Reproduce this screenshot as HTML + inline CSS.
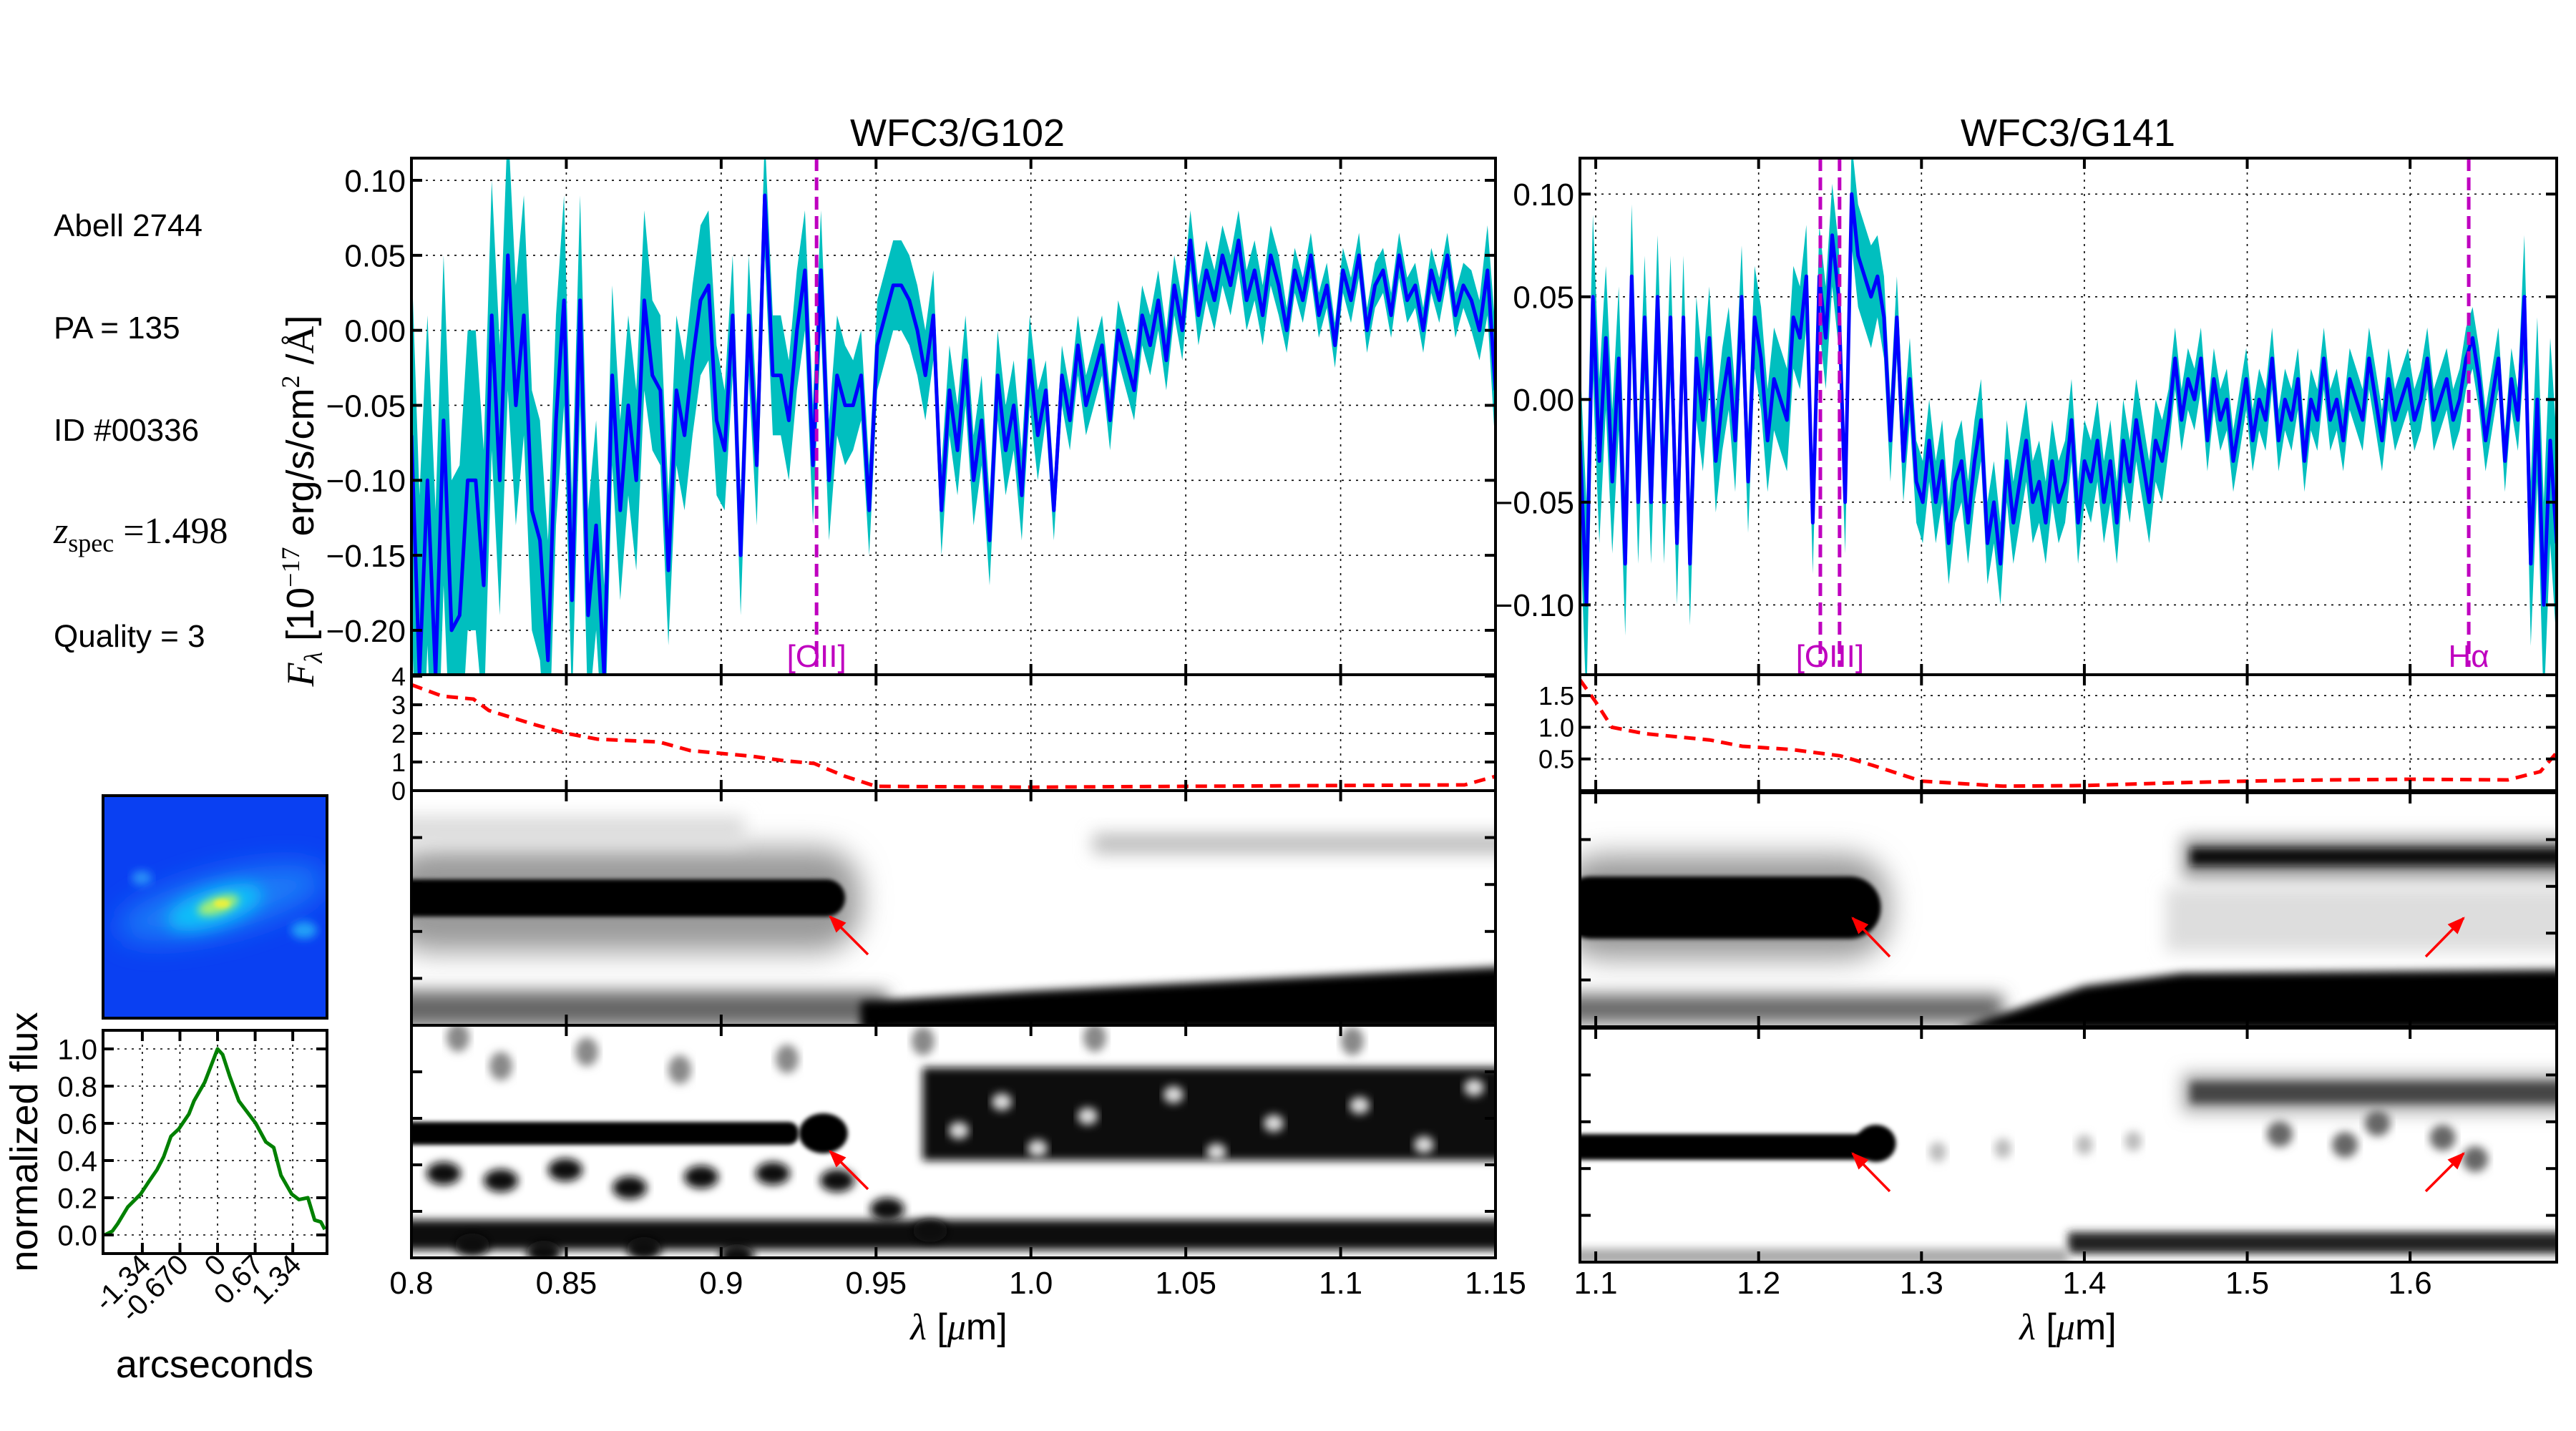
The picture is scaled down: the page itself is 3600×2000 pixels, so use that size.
<!DOCTYPE html>
<html><head><meta charset="utf-8">
<style>
html,body{margin:0;padding:0;background:#fff;}
svg{display:block;font-family:"Liberation Sans",Arial,sans-serif;}
</style></head>
<body>
<svg id="fig" width="3600" height="2000" viewBox="0 0 3600 2000" xmlns="http://www.w3.org/2000/svg">
<defs>
  <filter id="b3" x="-20%" y="-50%" width="140%" height="200%"><feGaussianBlur stdDeviation="3"/></filter>
  <filter id="b6" x="-20%" y="-50%" width="140%" height="200%"><feGaussianBlur stdDeviation="6"/></filter>
  <filter id="b12" x="-20%" y="-80%" width="140%" height="260%"><feGaussianBlur stdDeviation="12"/></filter>
  <filter id="b20" x="-30%" y="-80%" width="160%" height="260%"><feGaussianBlur stdDeviation="20"/></filter>
  <clipPath id="cL1"><rect x="575" y="1105" width="1515" height="328"/></clipPath>
  <clipPath id="cL2"><rect x="575" y="1433" width="1515" height="325"/></clipPath>
  <clipPath id="cR1"><rect x="2208" y="1108" width="1365" height="327"/></clipPath>
  <clipPath id="cR2"><rect x="2208" y="1437" width="1365" height="327"/></clipPath>
  <clipPath id="cTh"><rect x="144" y="1112" width="313" height="311"/></clipPath>
  <clipPath id="cLs"><rect x="575" y="221" width="1515" height="722"/></clipPath>
  <clipPath id="cRs"><rect x="2208" y="221" width="1365" height="722"/></clipPath>
  <marker id="arr" viewBox="0 0 10 10" refX="9" refY="5" markerWidth="7" markerHeight="7" orient="auto-start-reverse"><path d="M0,1 L10,5 L0,9 z" fill="#f00"/></marker>
</defs>

<text x="75" y="330" font-size="44">Abell 2744</text>
<text x="75" y="473" font-size="44">PA = 135</text>
<text x="75" y="616" font-size="44">ID #00336</text>
<text x="75" y="759" font-size="52" font-family="Liberation Serif, serif"><tspan font-style="italic">z</tspan><tspan font-size="36" dy="12">spec</tspan><tspan dy="-12"> =1.498</tspan></text>
<text x="75" y="904" font-size="44">Quality = 3</text>

<text x="1338" y="204" font-size="54" text-anchor="middle">WFC3/G102</text>
<text x="2890" y="204" font-size="54" text-anchor="middle">WFC3/G141</text>

<text transform="translate(438,700) rotate(-90)" font-size="54" text-anchor="middle"><tspan font-family="Liberation Serif, serif" font-style="italic">F</tspan><tspan font-family="Liberation Serif, serif" font-style="italic" font-size="36" dy="12">λ</tspan><tspan dy="-12"> [10</tspan><tspan font-size="36" dy="-20" font-family="Liberation Serif, serif">−17</tspan><tspan dy="20"> erg/s/cm</tspan><tspan font-size="36" dy="-20" font-family="Liberation Serif, serif">2</tspan><tspan dy="20"> /</tspan><tspan font-family="Liberation Serif, serif">Å</tspan><tspan>]</tspan></text>

<text x="1340" y="1872" font-size="52" text-anchor="middle"><tspan font-family="Liberation Serif, serif" font-style="italic">λ</tspan> [<tspan font-family="Liberation Serif, serif" font-style="italic">μ</tspan>m]</text>
<text x="2890" y="1872" font-size="52" text-anchor="middle"><tspan font-family="Liberation Serif, serif" font-style="italic">λ</tspan> [<tspan font-family="Liberation Serif, serif" font-style="italic">μ</tspan>m]</text>

<g clip-path="url(#cTh)">
  <rect x="144" y="1112" width="313" height="311" fill="#0a40f2"/>
  <ellipse cx="310" cy="1262" rx="150" ry="40" fill="#1a7cf8" transform="rotate(-14 310 1262)" filter="url(#b20)"/>
  <ellipse cx="300" cy="1268" rx="70" ry="26" fill="#10c0f8" transform="rotate(-18 300 1268)" filter="url(#b12)"/>
  <ellipse cx="305" cy="1265" rx="30" ry="12" fill="#a8f070" transform="rotate(-18 305 1265)" filter="url(#b6)"/>
  <ellipse cx="310" cy="1263" rx="11" ry="6" fill="#e8f040" filter="url(#b3)"/>
  <ellipse cx="198" cy="1227" rx="14" ry="10" fill="#2a90f8" filter="url(#b6)"/>
  <ellipse cx="425" cy="1300" rx="18" ry="12" fill="#20a0f8" filter="url(#b6)"/>
</g>
<rect x="144" y="1112" width="313" height="311" fill="none" stroke="#000" stroke-width="4"/>

<g id="plots"></g>
</svg>

<script>
const g102Flux = [-0.07,-0.23,-0.10,-0.23,-0.06,-0.20,-0.19,-0.10,-0.10,-0.17,0.01,
 -0.10,0.05,-0.05,0.01,-0.12,-0.14,-0.22,-0.06,0.02,-0.18,
 0.02,-0.19,-0.13,-0.23,-0.03,-0.12,-0.05,-0.10,0.02,-0.03,
 -0.04,-0.16,-0.04,-0.07,-0.02,0.02,0.03,-0.06,-0.08,0.01,
 -0.15,0.01,-0.09,0.09,-0.03,-0.03,-0.06,0.00,0.04,-0.09,
 0.04,-0.10,-0.03,-0.05,-0.05,-0.03,-0.12,-0.01,0.01,0.03,
 0.03,0.02,0.00,-0.03,0.01,-0.12,-0.04,-0.08,-0.02,-0.10,-0.06,-0.14,-0.03,-0.08,-0.05,-0.11,-0.02,-0.07,-0.04,-0.12,-0.03,-0.06,-0.01,-0.05,
 -0.03,-0.01,-0.06,0.00,-0.02,-0.04,0.01,-0.01,0.02,-0.02,0.03,0.00,0.06,0.01,0.04,0.02,0.05,
 0.03,0.06,0.02,0.04,0.01,0.05,0.03,0.00,0.04,0.02,0.05,0.01,0.03,-0.01,0.04,0.02,0.05,0.00,0.03,0.04,0.01,0.05,0.02,0.03,0.00,0.04,0.02,0.05,0.01,0.03,0.02,0.00,0.04,-0.04];
const g102Err = [0.12,0.12,0.11,0.11,0.11,0.10,0.10,0.10,0.10,0.09,0.09,
 0.09,0.09,0.08,0.08,0.08,0.08,0.08,0.07,0.07,0.07,
 0.07,0.07,0.07,0.06,0.06,0.06,0.06,0.06,0.06,0.05,
 0.05,0.05,0.05,0.05,0.05,0.05,0.05,0.05,0.04,0.04,
 0.04,0.04,0.04,0.04,0.04,0.04,0.04,0.04,0.04,0.04,
 0.04,0.04,0.04,0.04,0.03,0.03,0.03,0.03,0.03,0.03,
 0.03,0.03,0.03,0.03,0.03,0.03,0.03,0.03,0.03,0.03,0.03,0.03,0.03,0.03,0.03,0.03,0.03,0.03,0.02,0.02,0.02,0.02,0.02,0.02,
 0.02,0.02,0.02,0.02,0.02,0.02,0.02,0.02,0.02,0.02,0.02,0.02,0.02,0.02,0.02,0.02,0.02,
 0.02,0.02,0.02,0.02,0.02,0.02,0.02,0.015,0.015,0.015,0.015,0.015,0.015,0.015,0.015,0.015,0.015,0.015,0.015,0.015,0.015,0.015,0.015,0.015,0.015,0.015,0.015,0.015,0.015,0.015,0.02,0.02,0.03,0.04];
const g102Range = [0.8, 1.15];

const g141Flux = [-0.02,-0.10,0.05,-0.03,0.03,-0.04,0.02,-0.08,0.06,-0.05,0.04,-0.05,0.05,-0.05,0.04,-0.07,0.04,-0.08,0.02,-0.01,0.03,-0.03,0.00,0.02,-0.02,0.05,-0.04,0.04,0.02,-0.02,0.01,0.00,-0.01,0.04,0.03,
 0.06,-0.06,0.06,0.03,0.08,0.05,-0.05,0.10,0.07,0.06,
 0.05,0.06,0.04,-0.02,0.04,-0.03,0.01,-0.04,
 -0.05,-0.02,-0.05,-0.03,-0.07,-0.04,-0.03,-0.06,-0.03,-0.01,-0.07,-0.05,-0.08,-0.03,-0.06,-0.04,-0.02,-0.05,-0.04,-0.06,-0.03,-0.05,-0.04,-0.01,-0.06,-0.03,-0.04,-0.02,-0.05,-0.03,-0.06,-0.02,-0.04,-0.01,-0.03,-0.05,-0.02,-0.03,
 -0.01,0.02,-0.01,0.01,0.00,0.02,-0.02,0.01,-0.01,0.00,-0.03,-0.01,0.01,-0.02,0.00,-0.01,0.02,-0.02,0.00,-0.01,0.01,-0.03,0.00,-0.01,0.02,-0.01,0.00,-0.02,0.01,0.00,-0.01,0.02,0.00,-0.02,0.01,-0.01,0.00,0.01,-0.01,0.00,0.02,-0.01,0.00,0.01,-0.01,0.00,0.02,0.03,0.01,-0.02,0.00,0.02,-0.03,0.01,-0.01,
 0.05,-0.08,0.00,-0.10,-0.02,-0.07];
const g141Err = [0.04,0.05,0.04,0.04,0.035,0.035,0.035,0.035,0.035,0.03,0.03,0.03,0.03,0.03,0.03,0.03,0.03,0.03,0.03,0.025,0.025,0.025,0.025,0.025,0.025,0.025,0.025,0.025,0.025,0.025,0.025,0.025,0.025,0.025,0.025,
 0.025,0.025,0.025,0.025,0.025,0.025,0.025,0.025,0.025,0.025,
 0.025,0.02,0.02,0.02,0.02,0.02,0.02,0.02,
 0.02,0.02,0.02,0.02,0.02,0.02,0.02,0.02,0.02,0.02,0.02,0.02,0.02,0.02,0.02,0.02,0.02,0.02,0.02,0.02,0.02,0.02,0.02,0.02,0.02,0.02,0.02,0.02,0.02,0.02,0.02,0.02,0.02,0.02,0.02,0.02,0.02,0.02,
 0.015,0.015,0.015,0.015,0.015,0.015,0.015,0.015,0.015,0.015,0.015,0.015,0.015,0.015,0.015,0.015,0.015,0.015,0.015,0.015,0.015,0.015,0.015,0.015,0.015,0.015,0.015,0.015,0.015,0.015,0.015,0.015,0.015,0.015,0.015,0.015,0.015,0.015,0.015,0.015,0.015,0.015,0.015,0.015,0.015,0.015,0.015,0.015,0.015,0.015,0.015,0.015,0.015,0.015,0.015,
 0.03,0.04,0.04,0.05,0.05,0.05];
const g141Range = [1.0903, 1.690];

const g102NoiseWave = [0.8,0.81,0.82,0.825,0.84,0.85,0.86,0.87,0.88,0.89,0.9,0.91,0.92,0.93,0.94,0.95,1.0,1.05,1.1,1.14,1.15];
const g102Noise = [3.7,3.3,3.2,2.8,2.3,2.0,1.8,1.75,1.7,1.4,1.3,1.2,1.05,0.95,0.5,0.15,0.12,0.15,0.18,0.2,0.5];
const g141NoiseWave = [1.0903,1.1,1.11,1.13,1.15,1.17,1.19,1.22,1.25,1.27,1.3,1.35,1.4,1.45,1.5,1.55,1.6,1.66,1.68,1.69];
const g141Noise = [1.75,1.4,1.0,0.9,0.85,0.8,0.7,0.65,0.55,0.4,0.15,0.07,0.08,0.12,0.15,0.17,0.18,0.17,0.3,0.6];

const profileArcsec = [-2.01,-1.875,-1.78,-1.60,-1.37,-1.24,-1.08,-0.96,-0.83,-0.69,-0.51,-0.42,-0.23,0,0.09,0.22,0.38,0.68,0.86,1.00,1.13,1.32,1.45,1.61,1.73,1.84,1.91];
const profileFlux = [0.0,0.02,0.06,0.15,0.22,0.28,0.35,0.42,0.53,0.57,0.65,0.72,0.82,1.0,0.97,0.85,0.72,0.6,0.5,0.47,0.32,0.22,0.19,0.20,0.08,0.07,0.03];

const g102Lines = [0.9308];
const g102LineLabels = ["[OII]"];
const g141Lines = [1.2379, 1.2497, 1.636];
const g141LineLabels = [{x:1.2438,t:"[OIII]"},{x:1.636,t:"Hα"}];

const g102YTicks = [-0.20,-0.15,-0.10,-0.05,0.00,0.05,0.10];
const g141YTicks = [-0.10,-0.05,0.00,0.05,0.10];
const g102XTicks = [0.8,0.85,0.9,0.95,1.0,1.05,1.1,1.15];
const g102XLabels = ["0.8","0.85","0.9","0.95","1.0","1.05","1.1","1.15"];
const g141XTicks = [1.1,1.2,1.3,1.4,1.5,1.6];
const g141XLabels = ["1.1","1.2","1.3","1.4","1.5","1.6"];
const g102NoiseTicks = [0,1,2,3,4];
const g141NoiseTicks = [0.5,1.0,1.5];
const profTicksY = [0.0,0.2,0.4,0.6,0.8,1.0];
const profTicksX = [-1.34,-0.67,0,0.67,1.34];
const profLabelsX = ["-1.34","-0.670","0","0.67","1.34"];

const NS = "http://www.w3.org/2000/svg";
const root = document.getElementById('plots');
function mk(tag, attrs, parent) {
  const e = document.createElementNS(NS, tag);
  for (const k in attrs) e.setAttribute(k, attrs[k]);
  (parent || root).appendChild(e);
  return e;
}
function lin(d0, d1, r0, r1) { return v => r0 + (v - d0) / (d1 - d0) * (r1 - r0); }

const L = {x0:575, x1:2090, xr:g102Range};
const R = {x0:2208, x1:3573, xr:g141Range};
const SPEC = {y0:221, y1:943}, NOI = {y0:943, y1:1105};
L.sx = lin(L.xr[0], L.xr[1], L.x0, L.x1);
R.sx = lin(R.xr[0], R.xr[1], R.x0, R.x1);
L.sy = lin(-0.2296, 0.1148, SPEC.y1, SPEC.y0);
R.sy = lin(-0.134, 0.1175, SPEC.y1, SPEC.y0);
L.ny = lin(0, 4.05, NOI.y1, NOI.y0);
R.ny = lin(0, 1.83, NOI.y1, NOI.y0);

function grid(P, xt, yt, sy, y0, y1, name) {
  const g = mk('g', {});
  
  
  xt.forEach(v => { const x = P.sx(v); if (x > P.x0 + 2 && x < P.x1 - 2) mk('line', {x1:x, x2:x, y1:y0, y2:y1, stroke:'#000', 'stroke-width':1.6, 'stroke-dasharray':'3,7'}, g); });
  yt.forEach(v => { const y = sy(v); if (y > y0 + 2 && y < y1 - 2) mk('line', {x1:P.x0, x2:P.x1, y1:y, y2:y, stroke:'#000', 'stroke-width':1.6, 'stroke-dasharray':'3,7'}, g); });
}
function frame(P, xt, yt, sy, y0, y1, name) {
  const g = mk('g', {});
  
  
  mk('rect', {x:P.x0, y:y0, width:P.x1 - P.x0, height:y1 - y0, fill:'none', stroke:'#000', 'stroke-width':4}, g);
  xt.forEach(v => { const x = P.sx(v);
    mk('line', {x1:x, x2:x, y1:y0, y2:y0 + 15, stroke:'#000', 'stroke-width':4}, g);
    mk('line', {x1:x, x2:x, y1:y1, y2:y1 - 15, stroke:'#000', 'stroke-width':4}, g); });
  yt.forEach(v => { const y = sy(v);
    mk('line', {x1:P.x0, x2:P.x0 + 15, y1:y, y2:y, stroke:'#000', 'stroke-width':4}, g);
    mk('line', {x1:P.x1, x2:P.x1 - 15, y1:y, y2:y, stroke:'#000', 'stroke-width':4}, g); });
}
function yLabels(P, yt, sy, fs, fmt, name) {
  yt.forEach(v => {
    const t = mk('text', {x:P.x0 - 8, y:sy(v) + fs * 0.36, 'font-size':fs, 'text-anchor':'end'});
    
    
    t.textContent = fmt(v);
  });
}
const fm2 = v => (v < 0 ? '\u2212' : '') + Math.abs(v).toFixed(2);

function spectrum(P, flux, err, name) {
  const n = flux.length;
  const wl = i => P.xr[0] + (P.xr[1] - P.xr[0]) * i / (n - 1);
  const g = mk('g', {'clip-path': P === L ? 'url(#cLs)' : 'url(#cRs)'});
  
  
  let up = [], dn = [], ln = [];
  for (let i = 0; i < n; i++) {
    const x = P.sx(wl(i));
    up.push(x.toFixed(1) + ',' + P.sy(flux[i] + err[i]).toFixed(1));
    dn.unshift(x.toFixed(1) + ',' + P.sy(flux[i] - err[i]).toFixed(1));
    ln.push(x.toFixed(1) + ',' + P.sy(flux[i]).toFixed(1));
  }
  const band = mk('polygon', {points: up.concat(dn).join(' '), fill:'#00bfbf'}, g);
  
  
  const line = mk('polyline', {points: ln.join(' '), fill:'none', stroke:'#0000ff', 'stroke-width':5, 'stroke-linejoin':'round'}, g);
  
  
}
function noise(P, wave, vals, sy, name) {
  const pts = wave.map((w, i) => P.sx(w).toFixed(1) + ',' + sy(vals[i]).toFixed(1)).join(' ');
  const l = mk('polyline', {points: pts, fill:'none', stroke:'#ff0000', 'stroke-width':5, 'stroke-dasharray':'16,10'});
  
  
}

grid(L, g102XTicks, g102YTicks, L.sy, SPEC.y0, SPEC.y1, 'g102-spectrum');
grid(R, g141XTicks, g141YTicks, R.sy, SPEC.y0, SPEC.y1, 'g141-spectrum');
grid(L, g102XTicks, g102NoiseTicks, L.ny, NOI.y0, NOI.y1, 'g102-noise');
grid(R, g141XTicks, g141NoiseTicks, R.ny, NOI.y0, NOI.y1, 'g141-noise');

spectrum(L, g102Flux, g102Err, 'g102');
spectrum(R, g141Flux, g141Err, 'g141');
noise(L, g102NoiseWave, g102Noise, L.ny, 'g102');
noise(R, g141NoiseWave, g141Noise, R.ny, 'g141');

g102Lines.forEach(w => { const x = L.sx(w);
  const l = mk('line', {x1:x, x2:x, y1:SPEC.y0, y2:932, stroke:'#bf00bf', 'stroke-width':5, 'stroke-dasharray':'18,9'});
  
   });
g102LineLabels.forEach((t, i) => {
  const e = mk('text', {x:L.sx(g102Lines[i]), y:932, 'font-size':44, fill:'#bf00bf', 'text-anchor':'middle'});
  
  
  e.textContent = t; });
g141Lines.forEach(w => { const x = R.sx(w);
  const l = mk('line', {x1:x, x2:x, y1:SPEC.y0, y2:932, stroke:'#bf00bf', 'stroke-width':5, 'stroke-dasharray':'18,9'});
  
   });
g141LineLabels.forEach(o => {
  const e = mk('text', {x:R.sx(o.x), y:932, 'font-size':44, fill:'#bf00bf', 'text-anchor':'middle'});
  
  
  e.textContent = o.t; });

frame(L, g102XTicks, g102YTicks, L.sy, SPEC.y0, SPEC.y1, 'g102-spectrum');
frame(R, g141XTicks, g141YTicks, R.sy, SPEC.y0, SPEC.y1, 'g141-spectrum');
frame(L, g102XTicks, g102NoiseTicks, L.ny, NOI.y0, NOI.y1, 'g102-noise');
frame(R, g141XTicks, g141NoiseTicks, R.ny, NOI.y0, NOI.y1, 'g141-noise');
yLabels(L, g102YTicks, L.sy, 44, fm2, 'g102-flux');
yLabels(R, g141YTicks, R.sy, 44, fm2, 'g141-flux');
yLabels(L, g102NoiseTicks, L.ny, 36, v => String(v), 'g102-noise');
yLabels(R, g141NoiseTicks, R.ny, 36, v => v.toFixed(1), 'g141-noise');

function blob(parent, tag, attrs) { return mk(tag, attrs, parent); }
function twoD(clip, name, draw) {
  const g = mk('g', {'clip-path': 'url(#' + clip + ')'});
  
  
  draw(g);
}
twoD('cL1', 'g102-2d-spectrum', g => {
  blob(g, 'rect', {x:560, y:1105, width:1560, height:330, fill:'#fff'});
  blob(g, 'rect', {x:540, y:1185, width:L.sx(0.945) - 540, height:145, rx:60, fill:'#9a9a9a', filter:'url(#b20)'});
  blob(g, 'rect', {x:540, y:1229, width:L.sx(0.94) - 540, height:52, rx:26, fill:'#000', filter:'url(#b3)'});
  blob(g, 'rect', {x:540, y:1385, width:700, height:50, fill:'#666', filter:'url(#b12)'});
  blob(g, 'rect', {x:540, y:1140, width:500, height:40, fill:'#ddd', filter:'url(#b12)'});
  blob(g, 'polygon', {points:`${L.sx(0.945)},1400 ${L.sx(1.0)},1385 2120,1350 2120,1440 ${L.sx(0.945)},1440`, fill:'#000', filter:'url(#b6)'});
  blob(g, 'rect', {x:L.sx(1.02), y:1165, width:1000, height:28, fill:'#bbb', filter:'url(#b12)'});
});
twoD('cL2', 'g102-2d-residual', g => {
  blob(g, 'rect', {x:560, y:1433, width:1560, height:330, fill:'#fff'});
  blob(g, 'rect', {x:L.sx(0.965), y:1492, width:2120 - L.sx(0.965), height:130, fill:'#0a0a0a', filter:'url(#b6)'});
  [[1400,1540],[1520,1560],[1640,1530],[1780,1570],[1900,1545],[1990,1600],[1450,1605],[1700,1610],[2060,1520],[1340,1580]].forEach(p =>
    blob(g, 'ellipse', {cx:p[0], cy:p[1], rx:14, ry:12, fill:'#ddd', filter:'url(#b6)'}));
  blob(g, 'rect', {x:560, y:1568, width:L.sx(0.925) - 560, height:32, rx:14, fill:'#000', filter:'url(#b3)'});
  blob(g, 'ellipse', {cx:L.sx(0.933), cy:1584, rx:34, ry:28, fill:'#000', filter:'url(#b3)'});
  blob(g, 'rect', {x:560, y:1705, width:1560, height:42, fill:'#111', filter:'url(#b6)'});
  [[620,1640],[700,1650],[790,1635],[880,1660],[980,1645],[1080,1640],[1170,1650],[660,1740],[760,1750],[900,1745],[1030,1755],[1240,1690],[1300,1720]].forEach(p =>
    blob(g, 'ellipse', {cx:p[0], cy:p[1], rx:24, ry:16, fill:'#111', filter:'url(#b6)'}));
  [[700,1490],[820,1470],[950,1495],[1100,1480],[640,1450],[1290,1455],[1530,1450],[1890,1455]].forEach(p =>
    blob(g, 'ellipse', {cx:p[0], cy:p[1], rx:16, ry:20, fill:'#888', filter:'url(#b6)'}));
});
twoD('cR1', 'g141-2d-spectrum', g => {
  blob(g, 'rect', {x:2190, y:1108, width:1400, height:330, fill:'#fff'});
  blob(g, 'rect', {x:2180, y:1195, width:R.sx(1.28) - 2180, height:145, rx:60, fill:'#999', filter:'url(#b20)'});
  blob(g, 'rect', {x:2180, y:1225, width:R.sx(1.275) - 2180, height:87, rx:43, fill:'#000', filter:'url(#b3)'});
  blob(g, 'rect', {x:2180, y:1390, width:R.sx(1.35) - 2180, height:40, fill:'#666', filter:'url(#b12)'});
  blob(g, 'polygon', {points:`${R.sx(1.32)},1440 ${R.sx(1.40)},1378 ${R.sx(1.46)},1360 3600,1355 3600,1440`, fill:'#000', filter:'url(#b6)'});
  blob(g, 'rect', {x:R.sx(1.46), y:1170, width:3600 - R.sx(1.46), height:60, fill:'#999', filter:'url(#b12)'});
  blob(g, 'rect', {x:R.sx(1.465), y:1185, width:3600 - R.sx(1.465), height:25, fill:'#111', filter:'url(#b6)'});
  blob(g, 'rect', {x:R.sx(1.45), y:1240, width:3600 - R.sx(1.45), height:90, fill:'#ddd', filter:'url(#b12)'});
});
twoD('cR2', 'g141-2d-residual', g => {
  blob(g, 'rect', {x:2190, y:1437, width:1400, height:330, fill:'#fff'});
  blob(g, 'rect', {x:2180, y:1585, width:R.sx(1.27) - 2180, height:36, rx:16, fill:'#000', filter:'url(#b3)'});
  blob(g, 'ellipse', {cx:R.sx(1.272), cy:1598, rx:28, ry:26, fill:'#000', filter:'url(#b3)'});
  blob(g, 'rect', {x:R.sx(1.46), y:1500, width:3600 - R.sx(1.46), height:55, fill:'#aaa', filter:'url(#b12)'});
  blob(g, 'rect', {x:R.sx(1.465), y:1512, width:3600 - R.sx(1.465), height:30, fill:'#444', filter:'url(#b6)'});
  [[R.sx(1.52),1585],[R.sx(1.56),1600],[R.sx(1.62),1590],[R.sx(1.64),1620],[R.sx(1.58),1570]].forEach(p =>
    blob(g, 'ellipse', {cx:p[0], cy:p[1], rx:18, ry:18, fill:'#666', filter:'url(#b6)'}));
  blob(g, 'rect', {x:R.sx(1.39), y:1722, width:3600 - R.sx(1.39), height:30, fill:'#222', filter:'url(#b6)'});
  blob(g, 'rect', {x:2180, y:1745, width:R.sx(1.39) - 2180, height:22, fill:'#aaa', filter:'url(#b6)'});
  [[R.sx(1.31),1610],[R.sx(1.35),1605],[R.sx(1.40),1600],[R.sx(1.43),1595]].forEach(p =>
    blob(g, 'ellipse', {cx:p[0], cy:p[1], rx:12, ry:14, fill:'#bbb', filter:'url(#b6)'}));
});
const y2L1 = lin(0,5,1105,1433), y2L2 = lin(0,5,1433,1758), y2R1 = lin(0,5,1108,1435), y2R2 = lin(0,5,1437,1764);
const twoDTicks = [1,2,3,4];
frame(L, g102XTicks, twoDTicks, y2L1, 1105, 1433, 'g102-2d-upper');
frame(L, g102XTicks, twoDTicks, y2L2, 1433, 1758, 'g102-2d-lower');
frame(R, g141XTicks, twoDTicks, y2R1, 1108, 1435, 'g141-2d-upper');
frame(R, g141XTicks, twoDTicks, y2R2, 1437, 1764, 'g141-2d-lower');

[[1213,1334,1160,1281],[1213,1662,1160,1609],[2641,1337,2589,1283],[2641,1665,2589,1612],[3390,1337,3443,1283],[3390,1665,3443,1612]].forEach(a => {
  const l = mk('line', {x1:a[0], y1:a[1], x2:a[2], y2:a[3], stroke:'#f00', 'stroke-width':3.5, 'marker-end':'url(#arr)'});
  
  
});

g102XTicks.forEach((v, i) => { const t = mk('text', {x:L.sx(v), y:1808, 'font-size':44, 'text-anchor':'middle'});
  
  
  t.textContent = g102XLabels[i]; });
g141XTicks.forEach((v, i) => { const t = mk('text', {x:R.sx(v), y:1808, 'font-size':44, 'text-anchor':'middle'});
  
  
  t.textContent = g141XLabels[i]; });

const P = {x0:144, x1:457, sx: lin(-2.04, 1.95, 144, 457)};
const py = lin(-0.1, 1.1, 1752, 1440);
grid(P, profTicksX, profTicksY, py, 1440, 1752, 'profile');
const pp = profileArcsec.map((a, i) => P.sx(a).toFixed(1) + ',' + py(profileFlux[i]).toFixed(1)).join(' ');
const pl = mk('polyline', {points:pp, fill:'none', stroke:'#008000', 'stroke-width':5, 'stroke-linejoin':'round'});


frame(P, profTicksX, profTicksY, py, 1440, 1752, 'profile');
yLabels(P, profTicksY, py, 40, v => v.toFixed(1), 'profile-y');
profTicksX.forEach((v, i) => {
  const x = P.sx(v) + 14, y = 1770;
  const t = mk('text', {x:x, y:y, 'font-size':40, 'text-anchor':'end', transform:`rotate(-45 ${x} ${y})`});
  
  
  t.textContent = profLabelsX[i];
});
const yl = mk('text', {x:0, y:0, 'font-size':54, 'text-anchor':'middle', transform:'translate(52,1596) rotate(-90)'});


yl.textContent = 'normalized flux';
const xl = mk('text', {x:300, y:1925, 'font-size':54, 'text-anchor':'middle'});


xl.textContent = 'arcseconds';
</script>
</body></html>
